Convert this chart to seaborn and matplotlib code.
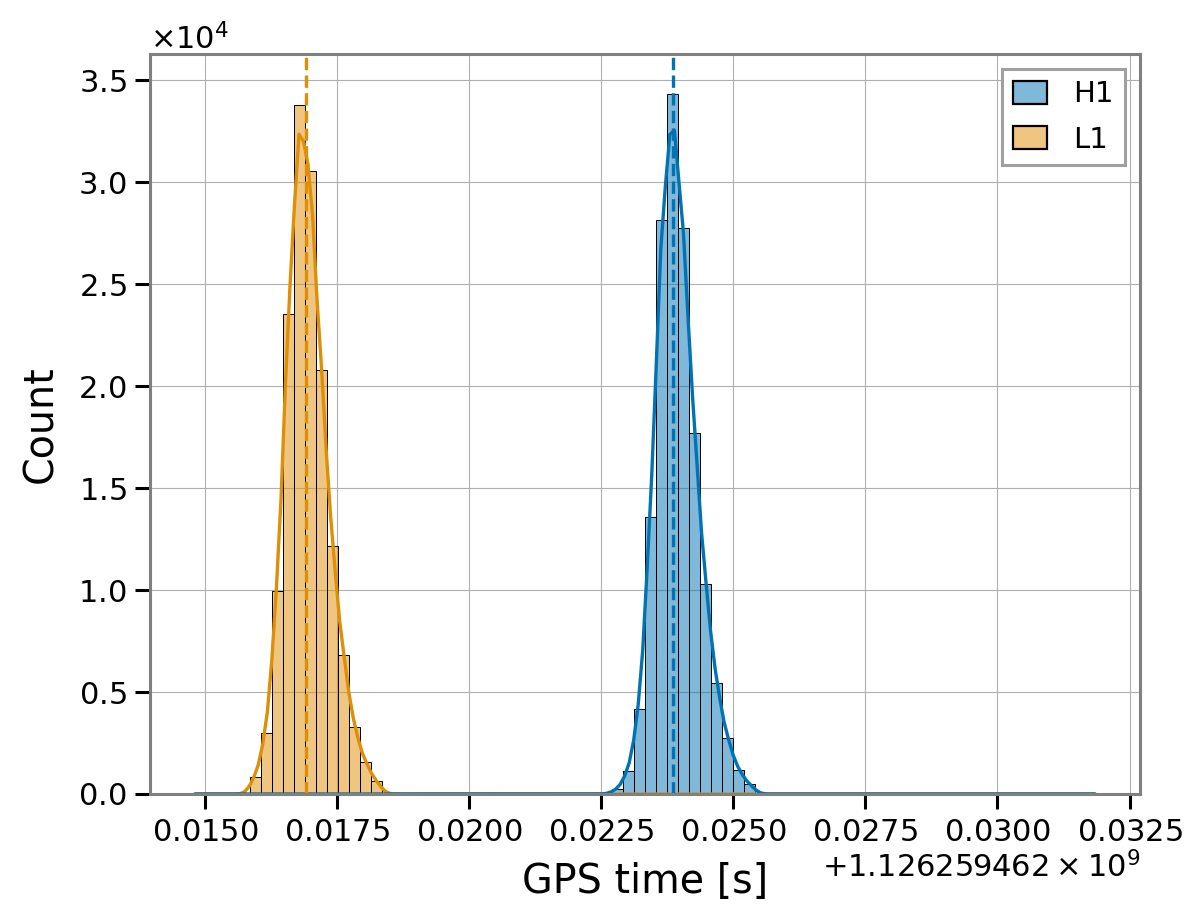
import numpy as np
import pandas as pd
import matplotlib.pyplot as plt
from matplotlib.ticker import MultipleLocator
import seaborn as sns

# ============================================================
# DATEN
# Zeiten in Sekunden nach gps_offset
# ============================================================
gps_offset = 1126259462
t_first = 0.01481    # frühestes Sample
t_last = 0.031845    # spätestes Sample
n_bins = 82

detectors = ["H1", "L1"]

# erster belegter Bin + Counts pro Bin
h1_start_bin = 38
h1_counts = [230, 1130, 4160, 13600, 28160, 34320, 27770, 17720, 10290, 5430, 2730, 1180, 480]
l1_start_bin = 5
l1_counts = [820, 2980, 9970, 23550, 33820, 30580, 20810, 12170, 6810, 3270, 1560, 620]

# Ankunftszeiten (gestrichelte Linien)
peak_times = [0.023853, 0.016903]

# ============================================================
# DATAFRAME BAUEN
# ============================================================
bin_w = (t_last - t_first) / n_bins


def make_rows(det, start, counts):
    centers = t_first + (start + np.arange(len(counts)) + 0.5) * bin_w
    return pd.DataFrame({"t": gps_offset + centers, "count": counts, "detector": det})


extremes = pd.DataFrame({"t": gps_offset + np.array([t_first, t_last]),
                         "count": [1, 1], "detector": "H1"})
df = pd.concat([make_rows("H1", h1_start_bin, h1_counts),
                make_rows("L1", l1_start_bin, l1_counts),
                extremes], ignore_index=True)

# ============================================================
# PLOT
# ============================================================
sns.set_style("ticks")
plt.rcParams["font.family"] = ["DejaVu Sans"]
plt.rcParams["text.color"] = "black"
plt.rcParams["axes.labelcolor"] = "black"
plt.rcParams["xtick.color"] = "black"
plt.rcParams["ytick.color"] = "black"

pal = dict(zip(detectors, sns.color_palette("colorblind", 2)))

fig = plt.figure(figsize=(12.03, 9.23), dpi=100)
ax = fig.add_axes([0.1247, 0.1398, 0.8229, 0.8017])

sns.histplot(data=df, x="t", weights="count", hue="detector", hue_order=detectors,
             bins=n_bins, kde=True, kde_kws={"bw_adjust": 0.37},
             palette=pal, edgecolor="black", linewidth=0.7, alpha=0.5,
             line_kws={"linewidth": 2.4}, ax=ax)

for det, peak in zip(detectors, peak_times):
    ax.axvline(gps_offset + peak, color=pal[det], ls="--", lw=2.4)

ax.set_ylim(0, 36300)
ax.xaxis.set_major_locator(MultipleLocator(0.0025))
ax.ticklabel_format(axis="y", style="sci", scilimits=(0, 0), useMathText=True)
ax.ticklabel_format(axis="x", useMathText=True)

ax.set_axisbelow(True)
ax.grid(True, color="#b0b0b0", linewidth=0.8)
for s in ax.spines.values():
    s.set_visible(True)
    s.set_color("gray")
    s.set_linewidth(2.2)

ax.tick_params(length=11, width=2.2, colors="black", labelsize=22, pad=6)
ax.xaxis.get_offset_text().set_fontsize(22)
ax.yaxis.get_offset_text().set_fontsize(22)

ax.set_xlabel("GPS time [s]", fontsize=28.5, labelpad=11)
ax.set_ylabel("Count", fontsize=28.5, labelpad=12)

sns.move_legend(ax, "upper right", title=None, frameon=True, fancybox=False,
                fontsize=21, handlelength=1.15, handleheight=0.85,
                handletextpad=0.9, labelspacing=0.6, framealpha=1)
leg = ax.get_legend()
leg.get_frame().set_edgecolor("#a0a0a0")
leg.get_frame().set_linewidth(2.2)
for h in leg.legend_handles:
    h.set_linewidth(1.6)
    h.set_edgecolor("black")

fig.savefig("out.png", dpi=100)
